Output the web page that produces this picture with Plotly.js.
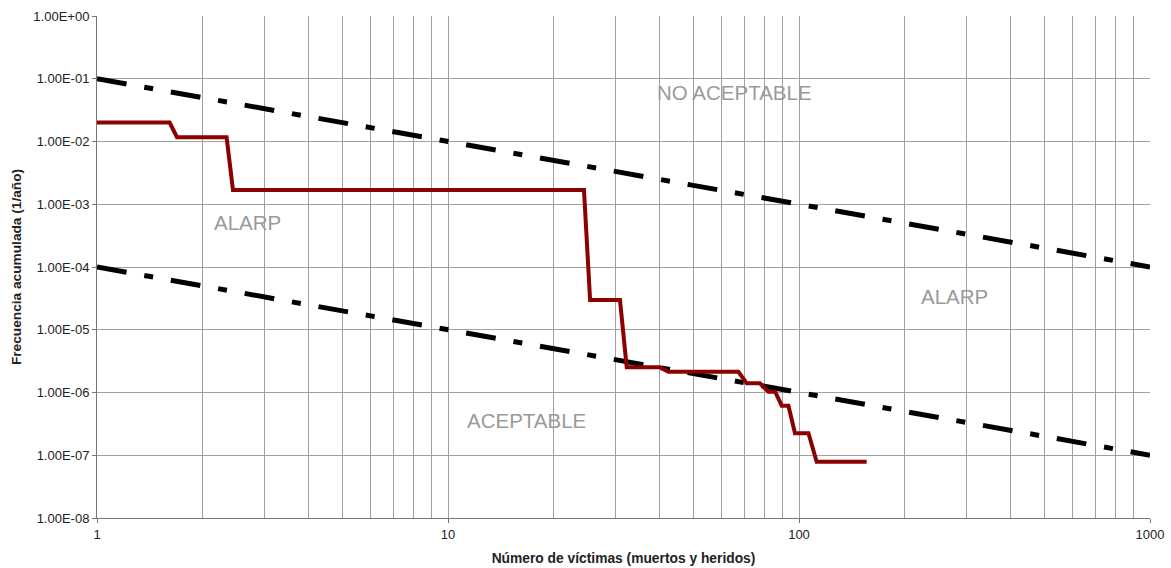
<!DOCTYPE html>
<html>
<head>
<meta charset="utf-8">
<script src="https://cdn.plot.ly/plotly-3.0.1.min.js"></script>
<style>html,body{margin:0;padding:0;background:#fff;}#chart{width:1171px;height:568px;}</style>
</head>
<body>
<div id="chart"></div>
<script>
// F-N curve (cumulative frequency vs number of victims)
const fnVictims = [1, 1.61, 1.69, 2.34, 2.44, 24.4, 25.4, 30.9, 32.3, 40.2, 42.4, 67.2, 71.0, 77.4, 81.8, 85.5, 89.3, 93.3, 97.4, 106.4, 112.3, 155.9];
const fnFreq    = [2.0e-2, 2.0e-2, 1.17e-2, 1.17e-2, 1.69e-3, 1.69e-3, 2.98e-5, 2.98e-5, 2.52e-6, 2.52e-6, 2.14e-6, 2.14e-6, 1.40e-6, 1.40e-6, 1.03e-6, 1.03e-6, 6.16e-7, 6.16e-7, 2.24e-7, 2.24e-7, 7.89e-8, 7.89e-8];

// Criteria lines
const critN = [1, 1000];
const upperCrit = [1e-1, 1e-4];
const lowerCrit = [1e-4, 1e-7];

// Axis ticks
const yTickVals = [1, 1e-1, 1e-2, 1e-3, 1e-4, 1e-5, 1e-6, 1e-7, 1e-8];
const yTickText = ["1.00E+00", "1.00E-01", "1.00E-02", "1.00E-03", "1.00E-04", "1.00E-05", "1.00E-06", "1.00E-07", "1.00E-08"];
const xTickVals = [1, 10, 100, 1000];
const xTickText = ["1", "10", "100", "1000"];
const xMinorVals = [2,3,4,5,6,7,8,9,20,30,40,50,60,70,80,90,200,300,400,500,600,700,800,900];

// Region labels
const regionText = ["NO ACEPTABLE", "ALARP", "ALARP", "ACEPTABLE"];
const regionX = [65.3, 2.69, 276.6, 16.7];
const regionY = [5.93e-2, 5.21e-4, 3.33e-5, 3.52e-7];

const dashPattern = "30px,18px,9px,18px";

const traces = [
  {x: critN, y: upperCrit, mode: "lines", line: {color: "#000", width: 5, dash: dashPattern}, hoverinfo: "skip"},
  {x: critN, y: lowerCrit, mode: "lines", line: {color: "#000", width: 5, dash: dashPattern}, hoverinfo: "skip"},
  {x: fnVictims, y: fnFreq, mode: "lines", line: {color: "#8B0000", width: 4}}
];

const annotations = regionText.map((t, i) => ({
  x: Math.log10(regionX[i]), y: Math.log10(regionY[i]), xref: "x", yref: "y",
  text: t, showarrow: false, font: {family: "Liberation Sans, Arial, sans-serif", size: 20.5, color: "#9a9a9a"}
}));

const layout = {
  width: 1171, height: 568,
  margin: {l: 97, r: 21, t: 16, b: 50},
  paper_bgcolor: "#fff", plot_bgcolor: "#fff",
  showlegend: false,
  font: {family: "Liberation Sans, Arial, sans-serif", size: 13, color: "#222"},
  xaxis: {
    type: "log", range: [0, 3],
    tickmode: "array", tickvals: xTickVals, ticktext: xTickText,
    ticks: "outside", ticklen: 4, tickcolor: "#777",
    showgrid: true, gridcolor: "#a0a0a0", gridwidth: 1,
    minor: {tickmode: "array", tickvals: xMinorVals, showgrid: true, gridcolor: "#a0a0a0", gridwidth: 1, ticks: ""},
    showline: true, linecolor: "#777", linewidth: 1, mirror: false,
    zeroline: false,
    tickfont: {size: 13, color: "#222"},
    title: {text: "Número de víctimas (muertos y heridos)", font: {size: 13.8, color: "#222", weight: "bold"}, standoff: 12}
  },
  yaxis: {
    type: "log", range: [-8, 0],
    tickmode: "array", tickvals: yTickVals, ticktext: yTickText,
    ticks: "outside", ticklen: 4, tickcolor: "#777",
    showgrid: true, gridcolor: "#a0a0a0", gridwidth: 1,
    showline: true, linecolor: "#777", linewidth: 1,
    zeroline: false,
    tickfont: {size: 13, color: "#222"},
    title: {text: "Frecuencia acumulada (1/año)", font: {size: 13.7, color: "#222", weight: "bold"}, standoff: 8}
  },
  annotations: annotations
};

Plotly.newPlot("chart", traces, layout, {displayModeBar: false, staticPlot: true});
</script>
</body>
</html>
